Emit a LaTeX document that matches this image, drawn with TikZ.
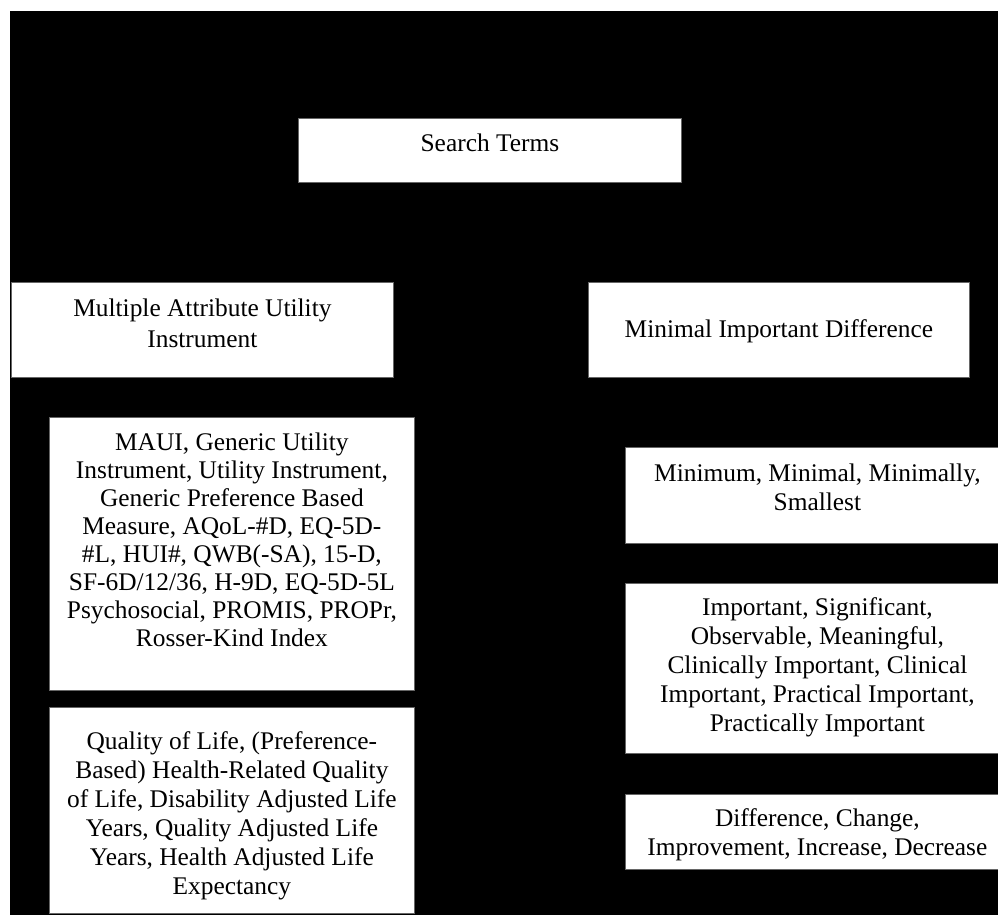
\documentclass[tikz,border=0pt]{standalone}
\usepackage{fontspec}
\setmainfont{Liberation Serif}

\begin{document}
\begin{tikzpicture}[
    x=1pt, y=-1pt,
    % box={width}{height}{top padding}, all in pt
    box/.style n args={3}{
        draw=black!60, fill=white, line width=0.8pt,
        inner sep=0pt, anchor=north west,
        minimum width=#1pt, minimum height=#2pt,
        font=\fontsize{25.4pt}{29pt}\selectfont,
        execute at begin node={%
            \begin{minipage}[c][\dimexpr#2pt-#3pt*2\relax][t]{\dimexpr#1pt-6pt\relax}\centering},
        execute at end node={\end{minipage}}
    },
    tight/.style={font=\fontsize{25.4pt}{28pt}\selectfont}
]
\useasboundingbox (0,0) rectangle (998,915);
\fill[white] (0,0) rectangle (998,915);
\fill[black] (10,11) rectangle (1010,925);

\node[box={383}{64}{15}] (search) at (298,118) {Search Terms};

\node[box={382}{95}{16}] (maui) at (11,282)
    {Multiple Attribute Utility\\[2pt]Instrument};
\node[box={381}{95}{37}] (mid) at (588,282)
    {Minimal Important Difference};

% left column: instrument names
\node[box={365}{273}{15},tight] (mauilist) at (49,417)
    {MAUI, Generic Utility\\Instrument, Utility Instrument,\\
     Generic Preference Based\\Measure, AQoL-\#D, EQ-5D-\\
     \#L, HUI\#, QWB(-SA), 15-D,\\SF-6D/12/36, H-9D, EQ-5D-5L\\
     Psychosocial, PROMIS, PROPr,\\Rosser-Kind Index};
\node[box={365}{206}{24}] (qol) at (49,707)
    {Quality of Life, (Preference-\\Based) Health-Related Quality\\
     of Life, Disability Adjusted Life\\Years, Quality Adjusted Life\\
     Years, Health Adjusted Life\\Expectancy};

% right column: wording of the difference
\node[box={384}{96}{16}] (minimum) at (625,447)
    {Minimum, Minimal, Minimally,\\Smallest};
\node[box={384}{170}{14}] (important) at (625,583)
    {Important, Significant,\\Observable, Meaningful,\\
     Clinically Important, Clinical\\Important, Practical Important,\\
     Practically Important};
\node[box={384}{75}{14}] (difference) at (625,794)
    {Difference, Change,\\Improvement, Increase, Decrease};
\end{tikzpicture}
\end{document}
